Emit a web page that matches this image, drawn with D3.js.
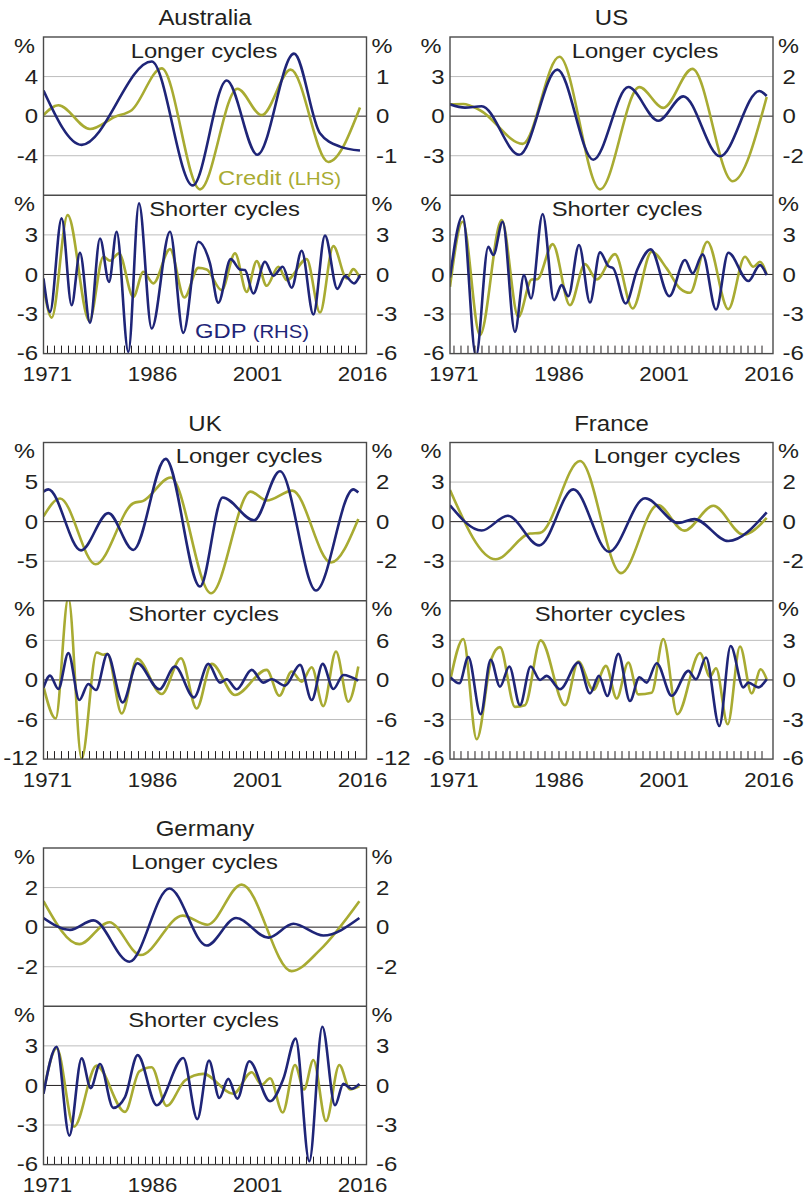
<!DOCTYPE html>
<html><head><meta charset="utf-8">
<script src="https://cdn.jsdelivr.net/npm/d3@7"></script>
<style>body{margin:0;background:#fff;} svg{display:block;} text{font-family:Arial,"Liberation Sans",sans-serif;}</style>
</head><body><svg id="c" width="806" height="1197"></svg>
<script>
// ---------------- DATA ----------------
const countries = ["Australia", "US", "UK", "France", "Germany"];
const yearLabels = [1971, 1986, 2001, 2016];
const yearTicks = d3.range(1971, 2016);

const longLhsTicks = [[4, 0, -4], [3, 0, -3], [5, 0, -5], [3, 0, -3], [2, 0, -2]];
const longLhsMax = [8, 6, 10, 6, 4];
const longRhsTicks = [[1, 0, -1], [2, 0, -2], [2, 0, -2], [2, 0, -2], [2, 0, -2]];
const longRhsMax = [2, 4, 4, 4, 4];
const shortTicks = [[3, 0, -3, -6], [3, 0, -3, -6], [6, 0, -6, -12], [3, 0, -3, -6], [3, 0, -3, -6]];
const shortMax = [6, 6, 12, 6, 6];

// [year, %]
const ausLongCredit = [[1970.43,0.1],[1972.55,1.1],[1977.07,-1.3],[1980.64,-0.07],[1983.02,0.6],[1987.31,4.83],[1992.79,-7.4],[1998.12,2.77],[2001.6,0.1],[2005.74,4.7],[2011.12,-4.63],[2015.64,0.87]];
const ausLongGDP = [[1970.43,0.65],[1975.88,-0.725],[1985.88,1.38],[1991.74,-1.75],[1996.6,0.9],[2000.98,-0.975],[2006.21,1.58],[2009.92,-0.43],[2012.79,-0.77],[2015.64,-0.87]];
const ausShortCredit = [[1970.43,-0.94],[1971.6,-3.27],[1973.88,4.5],[1976.98,-3.52],[1978.98,1.34],[1979.93,1.04],[1981.21,1.6],[1983.26,-1.7],[1984.69,0.2],[1986.12,-0.68],[1988.5,1.92],[1990.55,-1.75],[1992.55,0.5],[1993.74,0.38],[1995.88,-1.19],[1997.79,1.6],[1999.45,-1.32],[2000.88,1.01],[2002.31,-0.86],[2003.98,0.58],[2005.17,-0.43],[2008.02,1.16],[2009.93,-2.89],[2011.83,2.15],[2013.74,-0.3],[2014.69,0.4],[2015.64,-0.3]];
const ausShortGDP = [[1970.43,-0.3],[1971.36,-2.84],[1973.02,4.25],[1974.45,-2.33],[1975.64,1.65],[1977.07,-3.67],[1978.5,2.73],[1979.79,-0.56],[1980.88,3.24],[1982.55,-5.87],[1984.07,5.39],[1985.88,-4.1],[1988.5,3.24],[1990.4,-4.43],[1992.55,2.48],[1994.21,0.84],[1995.4,-2.15],[1997.17,1.16],[1998.5,0.38],[1999.21,0.33],[2000.4,-1.44],[2002.07,0.96],[2003.26,-0.1],[2004.6,0.58],[2005.88,-1.01],[2007.31,1.8],[2008.98,-3.04],[2010.64,2.94],[2012.4,-1.09],[2013.5,-0.13],[2014.79,-0.68],[2015.64,-0.05]];

const usLongCredit = [[1970.43,0.9],[1972.33,0.92],[1974.71,0.45],[1980.81,-2.1],[1986.05,4.5],[1991.86,-5.55],[1997.48,2.2],[2000.9,0.63],[2005.05,3.58],[2010.81,-4.93],[2015.67,1.45]];
const usLongGDP = [[1970.43,0.6],[1972.57,0.43],[1974.95,0.5],[1980.33,-1.95],[1985.76,2.35],[1990.9,-2.2],[1995.9,1.47],[2000.19,-0.23],[2003.76,1.0],[2009.0,-2.03],[2014.62,1.27],[2015.67,1.02]];
const usShortCredit = [[1970.43,-0.94],[1972.24,4.0],[1974.71,-4.6],[1977.81,4.13],[1980.19,-3.22],[1982.1,-0.38],[1982.9,-0.36],[1985.1,2.3],[1987.57,-2.33],[1989.71,0.78],[1991.38,-0.38],[1994.0,1.54],[1996.52,-2.58],[1999.24,1.72],[2001.38,0.46],[2003.29,-1.06],[2004.71,-1.39],[2007.19,2.48],[2010.19,-2.63],[2012.57,1.34],[2013.76,0.58],[2014.71,0.96],[2015.67,0.0]];
const usShortGDP = [[1970.43,-0.23],[1972.24,4.43],[1974.14,-6.2],[1975.9,2.1],[1976.62,1.47],[1977.95,4.0],[1979.71,-4.35],[1981.0,-0.05],[1982.0,-1.82],[1983.67,4.58],[1985.29,-1.95],[1986.38,-0.81],[1987.33,-1.65],[1988.86,2.23],[1990.43,-2.13],[1991.86,1.67],[1993.05,0.63],[1993.76,0.46],[1995.52,-2.2],[1997.19,0.38],[1999.1,1.9],[2001.76,-1.65],[2004.0,1.09],[2005.1,0.08],[2006.52,1.52],[2008.43,-2.66],[2010.19,1.65],[2013.05,-0.5],[2014.71,0.71],[2015.67,-0.05]];

const ukLongCredit = [[1970.43,0.67],[1972.79,2.92],[1977.88,-5.38],[1983.26,2.33],[1984.69,2.63],[1988.6,5.58],[1994.36,-9.04],[2000.02,3.79],[2002.31,2.67],[2005.98,3.92],[2011.5,-5.17],[2015.4,0.33]];
const ukLongGDP = [[1970.43,1.52],[1971.12,1.63],[1975.79,-1.45],[1979.69,0.43],[1983.26,-1.43],[1987.88,3.17],[1992.79,-3.28],[1996.02,1.22],[2000.5,0.07],[2004.21,2.55],[2009.36,-3.48],[2014.69,1.63],[2015.4,1.47]];
const ukShortCredit = [[1970.43,-1.02],[1972.17,-5.85],[1973.98,12.5],[1975.88,-11.95],[1978.02,4.17],[1978.98,3.81],[1979.55,3.97],[1981.6,-5.08],[1983.83,3.2],[1987.31,-2.14],[1990.07,3.3],[1992.31,-4.32],[1994.45,2.44],[1997.79,-2.29],[2002.31,1.53],[2004.12,-2.39],[2005.88,1.27],[2007.31,-0.25],[2008.74,1.93],[2010.4,-3.97],[2012.21,4.32],[2013.98,-3.3],[2015.4,2.03]];
const ukShortGDP = [[1970.43,-1.17],[1971.36,0.66],[1972.55,-1.37],[1973.98,4.07],[1975.55,-3.05],[1976.83,-0.61],[1977.93,-1.53],[1979.55,3.91],[1981.74,-3.41],[1983.83,2.54],[1986.98,-1.42],[1989.21,2.03],[1991.93,-2.64],[1993.98,2.44],[1995.64,-0.41],[1996.6,0.1],[1998.02,-1.42],[2000.17,1.53],[2001.83,-0.41],[2003.02,0.1],[2004.93,-0.86],[2007.07,2.29],[2008.74,-3.05],[2010.31,2.44],[2011.83,-1.37],[2013.26,0.76],[2015.4,-0.1]];

const frLongCredit = [[1970.43,2.4],[1976.95,-2.85],[1981.86,-0.9],[1983.29,-0.85],[1989.0,4.6],[1994.86,-3.9],[2000.1,1.25],[2003.9,-0.68],[2008.05,1.2],[2012.33,-0.98],[2015.67,0.28]];
const frLongGDP = [[1970.43,0.83],[1974.95,-0.45],[1978.67,0.3],[1983.19,-1.2],[1988.05,1.63],[1993.14,-1.52],[1998.29,1.18],[2003.05,-0.07],[2005.33,0.13],[2010.19,-0.98],[2015.67,0.47]];
const frShortCredit = [[1970.5,0.05],[1972.33,3.1],[1974.24,-4.5],[1976.38,1.65],[1977.57,2.49],[1979.71,-2.04],[1981.14,-1.91],[1983.38,3.0],[1986.86,-1.91],[1988.76,1.4],[1990.9,-0.76],[1992.71,1.07],[1994.24,-1.4],[1995.9,1.32],[1997.33,-1.09],[1999.24,-0.97],[2000.9,3.1],[2002.9,-2.6],[2006.14,2.04],[2007.57,0.25],[2008.43,0.89],[2010.1,-3.36],[2011.86,2.54],[2013.52,-1.02],[2014.81,0.81],[2015.67,0.05]];
const frShortGDP = [[1970.5,0.2],[1971.76,-0.25],[1973.05,1.73],[1974.81,-2.6],[1976.24,1.53],[1977.57,-0.51],[1978.9,1.02],[1980.43,-1.91],[1981.95,1.02],[1983.29,0.0],[1984.24,0.31],[1986.14,-0.71],[1988.76,1.32],[1990.43,-1.02],[1991.71,0.31],[1992.9,-1.22],[1994.48,1.98],[1996.14,-1.6],[1997.48,0.2],[1998.52,-0.2],[1999.95,1.27],[2002.1,-1.2],[2004.48,0.69],[2005.57,0.05],[2007.0,1.7],[2008.9,-3.49],[2010.52,2.57],[2012.33,-0.56],[2013.05,-0.2],[2014.48,-0.56],[2015.67,0.05]];

const deLongCredit = [[1970.43,1.31],[1975.55,-0.86],[1979.83,0.25],[1984.31,-1.41],[1990.31,0.58],[1993.83,0.12],[1998.74,2.15],[2005.88,-2.22],[2009.93,-1.15],[2015.55,1.31]];
const deLongGDP = [[1970.43,0.46],[1974.21,-0.14],[1977.55,0.34],[1982.69,-1.75],[1988.4,1.95],[1993.74,-0.93],[1997.93,0.46],[2002.55,-0.53],[2006.12,0.17],[2010.4,-0.42],[2015.55,0.46]];
const deShortCredit = [[1970.43,-0.5],[1972.31,2.83],[1974.79,-3.13],[1978.02,1.5],[1982.07,-2.0],[1984.12,1.07],[1985.88,1.38],[1988.02,-1.55],[1990.64,0.38],[1993.26,0.88],[1997.55,-0.63],[2000.17,1.0],[2001.6,0.05],[2002.79,0.55],[2004.6,-2.05],[2006.36,1.55],[2007.64,-0.3],[2008.98,1.93],[2010.79,-2.7],[2012.69,1.55],[2014.21,-0.3],[2015.55,-0.05]];
const deShortGDP = [[1970.43,-0.63],[1972.31,2.93],[1974.12,-3.8],[1975.88,2.05],[1977.17,-0.2],[1978.5,1.63],[1980.4,-1.7],[1982.07,-0.88],[1983.88,2.3],[1986.6,-1.5],[1990.4,2.08],[1992.4,-2.55],[1994.07,1.88],[1995.55,-0.95],[1996.83,0.5],[1998.12,-1.0],[1999.83,1.83],[2002.79,-1.2],[2004.69,0.5],[2006.45,3.55],[2008.4,-5.75],[2010.26,4.45],[2012.07,-1.5],[2013.26,0.12],[2014.45,-0.25],[2015.55,0.12]];

const longCredit = [ausLongCredit, usLongCredit, ukLongCredit, frLongCredit, deLongCredit];
const longGDP = [ausLongGDP, usLongGDP, ukLongGDP, frLongGDP, deLongGDP];
const shortCredit = [ausShortCredit, usShortCredit, ukShortCredit, frShortCredit, deShortCredit];
const shortGDP = [ausShortGDP, usShortGDP, ukShortGDP, frShortGDP, deShortGDP];

// ---------------- LAYOUT ----------------
const colX = [43.5, 450, 43.5, 450, 43.5];
const rowY = [37, 37, 442.5, 442.5, 848];
const W = 323, H = 158.3;
const longLabelX = [160.5, 195, 205.5, 217, 161];
const shortLabelX = [181, 177, 160, 160, 160];
const C_CREDIT = "#a8ab32", C_GDP = "#1f2578", C_TEXT = "#231f20";

const svg = d3.select("#c");
const x = d3.scaleLinear().domain([1970.43, 2016.57]).range([0, W]);

function txt(g, px, py, s, anchor, size, sx, fill) {
  return g.append("text")
    .attr("transform", `translate(${px},${py}) scale(${sx},1)`)
    .attr("text-anchor", anchor || "start")
    .style("font-size", size + "px")
    .attr("fill", fill || C_TEXT)
    .text(s);
}

countries.forEach((name, i) => {
  const g = svg.append("g").attr("transform", `translate(${colX[i]},${rowY[i]})`);
  const subs = [
    { top: 0, lhs: d3.scaleLinear().domain([-longLhsMax[i], longLhsMax[i]]).range([H, 0]),
      rhs: d3.scaleLinear().domain([-longRhsMax[i], longRhsMax[i]]).range([H, 0]),
      lt: longLhsTicks[i], rt: longRhsTicks[i], credit: longCredit[i], gdp: longGDP[i],
      label: "Longer cycles", lx: longLabelX[i] },
    { top: H, lhs: d3.scaleLinear().domain([-shortMax[i], shortMax[i]]).range([H, 0]),
      rhs: d3.scaleLinear().domain([-shortMax[i], shortMax[i]]).range([H, 0]),
      lt: shortTicks[i], rt: shortTicks[i], credit: shortCredit[i], gdp: shortGDP[i],
      label: "Shorter cycles", lx: shortLabelX[i] }
  ];
  subs.forEach((s, k) => {
    const sg = g.append("g").attr("transform", `translate(0,${s.top})`);
    const cid = `clip-${i}-${k}`;
    sg.append("clipPath").attr("id", cid).append("rect").attr("x", 0).attr("y", 0).attr("width", W).attr("height", H);
    s.lt.filter(v => v !== 0 && s.lhs(v) > 0.5 && s.lhs(v) < H - 0.5).forEach(v => {
      sg.append("line").attr("x1", 0).attr("x2", W).attr("y1", s.lhs(v)).attr("y2", s.lhs(v))
        .attr("stroke", "#bdbdbd").attr("stroke-width", 1);
    });
    sg.append("line").attr("x1", 0).attr("x2", W).attr("y1", s.lhs(0)).attr("y2", s.lhs(0))
      .attr("stroke", C_TEXT).attr("stroke-width", 1);
    const lc = d3.line().x(d => x(d[0])).y(d => s.lhs(d[1])).curve(d3.curveMonotoneX);
    const lg = d3.line().x(d => x(d[0])).y(d => s.rhs(d[1])).curve(d3.curveMonotoneX);
    const pg = sg.append("g").attr("clip-path", `url(#${cid})`);
    pg.append("path").attr("d", lc(s.credit)).attr("fill", "none").attr("stroke", C_CREDIT).attr("stroke-width", 2.6);
    pg.append("path").attr("d", lg(s.gdp)).attr("fill", "none").attr("stroke", C_GDP).attr("stroke-width", 2.6);
    const dy = v => (s.lhs(v) >= H - 0.5 ? 6.3 : 7.2);
    s.lt.forEach(v => txt(sg, -5.5, s.lhs(v) + dy(v), String(v), "end", 20, 1.2));
    s.rt.forEach(v => txt(sg, W + 9.5, s.rhs(v) + dy(v), String(v), "start", 20, 1.2));
    txt(sg, -8.5, 15.5, "%", "end", 20.5, 1.15);
    txt(sg, W + 5, 15.5, "%", "start", 20.5, 1.15);
    txt(sg, s.lx, 20.5, s.label, "middle", 20.5, 1.16);
  });
  yearTicks.forEach(yv => {
    g.append("line").attr("x1", x(yv)).attr("x2", x(yv)).attr("y1", 2 * H).attr("y2", 2 * H - 8)
      .attr("stroke", C_TEXT).attr("stroke-width", 1);
  });
  yearLabels.forEach(yv => txt(g, x(yv), 2 * H + 27.8, String(yv), "middle", 21, 1.06));
  g.append("rect").attr("x", 0).attr("y", 0).attr("width", W).attr("height", 2 * H)
    .attr("fill", "none").attr("stroke", "#4a4a4a").attr("stroke-width", 1.4);
  g.append("line").attr("x1", 0).attr("x2", W).attr("y1", H).attr("y2", H)
    .attr("stroke", "#4a4a4a").attr("stroke-width", 1.4);
  txt(g, W / 2, -12, name, "middle", 22, 1.09);
  if (i === 0) {
    const t1 = txt(g, 218 - colX[0], 185 - rowY[0], "Credit ", "start", 20.5, 1.16, C_CREDIT);
    t1.append("tspan").style("font-size", "17.5px").text("(LHS)");
    const t2 = txt(g, 195 - colX[0], 338 - rowY[0], "GDP ", "start", 20.5, 1.16, C_GDP);
    t2.append("tspan").style("font-size", "17.5px").text("(RHS)");
  }
});
</script>
</body></html>
